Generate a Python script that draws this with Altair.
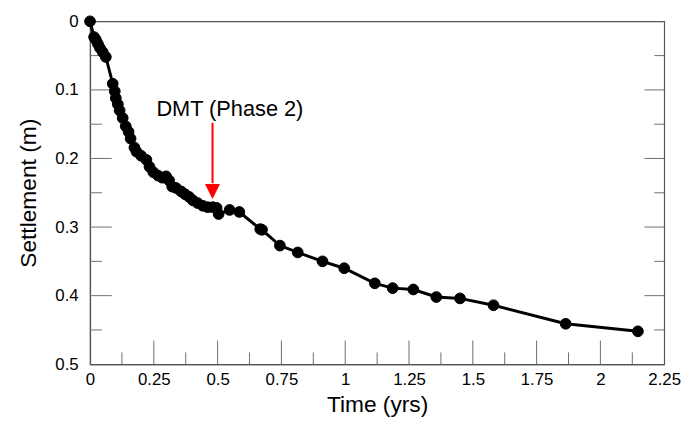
import altair as alt
import pandas as pd

time_yrs = [0.0, 0.016, 0.023, 0.031, 0.039, 0.05, 0.062, 0.089, 0.097, 0.101, 0.109, 0.116,
            0.128, 0.14, 0.151, 0.159, 0.174, 0.182, 0.2, 0.221, 0.233, 0.248, 0.267, 0.283,
            0.298, 0.31, 0.322, 0.337, 0.357, 0.372, 0.388, 0.403, 0.422, 0.442, 0.461, 0.481,
            0.496, 0.504, 0.547, 0.585, 0.667, 0.674, 0.744, 0.814, 0.911, 0.996, 1.116, 1.186,
            1.267, 1.357, 1.45, 1.581, 1.864, 2.147]
settlement_m = [0.0, 0.023, 0.027, 0.033, 0.039, 0.045, 0.052, 0.091, 0.102, 0.112, 0.121, 0.130,
                0.141, 0.153, 0.161, 0.171, 0.184, 0.19, 0.196, 0.202, 0.212, 0.22, 0.225, 0.228,
                0.226, 0.232, 0.241, 0.243, 0.248, 0.252, 0.256, 0.261, 0.265, 0.269, 0.271, 0.271,
                0.272, 0.281, 0.275, 0.278, 0.303, 0.304, 0.327, 0.337, 0.350, 0.360, 0.382, 0.389,
                0.391, 0.402, 0.404, 0.414, 0.441, 0.452]

x_major = [0, 0.25, 0.5, 0.75, 1, 1.25, 1.5, 1.75, 2, 2.25]
x_minor = [0.125, 0.375, 0.625, 0.875, 1.125, 1.375, 1.625, 1.875, 2.125]
y_major = [0, 0.1, 0.2, 0.3, 0.4, 0.5]
y_minor = [0.05, 0.15, 0.25, 0.35, 0.45]

ann_label = ["DMT (Phase 2)"]
ann_text_x = [0.548]
ann_text_y = [0.128]
arrow_x = [0.48]
arrow_top = [0.148]
arrow_base = [0.236]
arrow_head_y = [0.248]

df = pd.DataFrame({"t": time_yrs, "s": settlement_m})
xs = alt.Scale(domain=[0, 2.25], nice=False, zero=False)
ys = alt.Scale(domain=[0.5, 0], nice=False, zero=False)
TICK = "#6e6e6e"
FONT = "Liberation Sans"

base = alt.Chart(df)
line = base.mark_line(color="black", strokeWidth=3).encode(
    x=alt.X("t:Q", scale=xs, title="Time (yrs)",
            axis=alt.Axis(values=x_major, ticks=False, grid=False, labelPadding=8,
                          labelFlush=False, labelExpr="'' + datum.value", titlePadding=6)),
    y=alt.Y("s:Q", scale=ys, title="Settlement (m)",
            axis=alt.Axis(values=y_major, ticks=False, grid=False, labelPadding=12,
                          labelFlush=False, labelExpr="'' + datum.value", titlePadding=15)),
)
pts = base.mark_point(filled=True, color="black", size=118, opacity=1, stroke="black",
                      strokeWidth=1).encode(
    x=alt.X("t:Q", scale=xs), y=alt.Y("s:Q", scale=ys))

xmaj = alt.Chart(pd.DataFrame({"v": x_major[1:-1]})).mark_rule(color=TICK, strokeWidth=1).encode(
    x=alt.X("v:Q", scale=xs), y=alt.value(347), y2=alt.value(323))
xmin = alt.Chart(pd.DataFrame({"v": x_minor})).mark_rule(color=TICK, strokeWidth=1).encode(
    x=alt.X("v:Q", scale=xs), y=alt.value(347), y2=alt.value(335))
ylmaj = alt.Chart(pd.DataFrame({"v": y_major[1:-1]})).mark_rule(color=TICK, strokeWidth=1).encode(
    y=alt.Y("v:Q", scale=ys), x=alt.value(0), x2=alt.value(22))
ylmin = alt.Chart(pd.DataFrame({"v": y_minor})).mark_rule(color=TICK, strokeWidth=1).encode(
    y=alt.Y("v:Q", scale=ys), x=alt.value(0), x2=alt.value(12))
yrmaj = alt.Chart(pd.DataFrame({"v": y_major[1:-1]})).mark_rule(color=TICK, strokeWidth=1).encode(
    y=alt.Y("v:Q", scale=ys), x=alt.value(581), x2=alt.value(561))
yrmin = alt.Chart(pd.DataFrame({"v": y_minor})).mark_rule(color=TICK, strokeWidth=1).encode(
    y=alt.Y("v:Q", scale=ys), x=alt.value(581), x2=alt.value(571))

ann = pd.DataFrame({"label": ann_label, "tx": ann_text_x, "ty": ann_text_y,
                    "ax": arrow_x, "a0": arrow_top, "a1": arrow_base, "ah": arrow_head_y})
ann_text = alt.Chart(ann).mark_text(font=FONT, fontSize=22, color="black", align="center",
                                    baseline="middle").encode(
    x=alt.X("tx:Q", scale=xs), y=alt.Y("ty:Q", scale=ys), text="label:N")
shaft = alt.Chart(ann).mark_rule(color="#ff0000", strokeWidth=2).encode(
    x=alt.X("ax:Q", scale=xs), y=alt.Y("a0:Q", scale=ys), y2="a1:Q")
head = alt.Chart(ann).mark_point(shape="M-1,-1L1,-1L0,1Z", filled=True, color="#ff0000",
                                 size=230, opacity=1).encode(
    x=alt.X("ax:Q", scale=xs), y=alt.Y("ah:Q", scale=ys))

chart = alt.layer(xmaj, xmin, ylmaj, ylmin, yrmaj, yrmin, line, pts, shaft, head, ann_text).properties(
    width=581, height=347,
    autosize=alt.AutoSizeParams(type="none"),
    padding={"left": 83, "top": 11, "right": 17, "bottom": 58},
).configure_view(stroke="#555555", strokeWidth=1.2).configure_axis(
    labelFont=FONT, titleFont=FONT, labelFontSize=17, titleFontSize=23,
    labelColor="black", titleColor="black", titleFontWeight="normal",
    domainColor="#555555", domainWidth=1.2,
)

chart.save("out.html", embed_options={"renderer": "svg", "actions": False})
